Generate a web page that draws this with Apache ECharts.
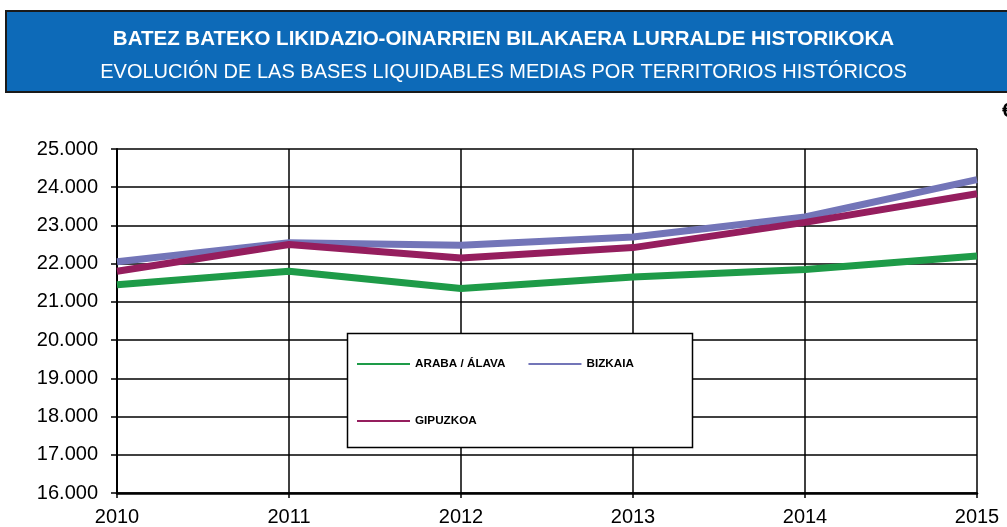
<!DOCTYPE html>
<html>
<head>
<meta charset="utf-8">
<script src="https://cdn.jsdelivr.net/npm/echarts@6/dist/echarts.min.js"></script>
<style>
  html, body { margin: 0; padding: 0; background: #fff; }
  #chart { width: 1007px; height: 527px; }
</style>
</head>
<body>
<div id="chart"></div>
<script>
// datos
var years = ['2010', '2011', '2012', '2013', '2014', '2015']
var araba = [21450, 21800, 21350, 21650, 21850, 22200]
var bizkaia = [22050, 22550, 22480, 22700, 23220, 24200]
var gipuzkoa = [21800, 22500, 22150, 22420, 23080, 23830]
var seriesNames = ['ARABA / ÁLAVA', 'BIZKAIA', 'GIPUZKOA']
var seriesColors = ['#1e9b48', '#7375b8', '#951e5e']

var titleText = 'BATEZ BATEKO LIKIDAZIO-OINARRIEN BILAKAERA LURRALDE HISTORIKOKA'
var subText = 'EVOLUCIÓN DE LAS BASES LIQUIDABLES MEDIAS POR TERRITORIOS HISTÓRICOS'

var chart = echarts.init(document.getElementById('chart'))

function fmt(v) {
  // separador de miles con punto
  return String(v).replace(/\B(?=(\d{3})+(?!\d))/g, '.')
}

var values = [araba, bizkaia, gipuzkoa]
var series = []
for (var i = 0; i < values.length; i++) {
  series.push({
    name: seriesNames[i],
    type: 'line',
    data: values[i],
    symbol: 'none',
    z: 10,
    lineStyle: { width: 7, color: seriesColors[i] },
    itemStyle: { color: seriesColors[i] }
  })
}

var legendText = { fontFamily: 'Liberation Sans', fontSize: 11.7, fontWeight: 'bold', color: '#000' }

var option = {
  animation: false,
  title: [
    {
      text: titleText,
      left: 'center',
      top: 24,
      textStyle: { fontFamily: 'Liberation Sans', fontSize: 20.5, fontWeight: 'bold', color: '#fff' }
    },
    {
      text: subText,
      left: 'center',
      top: 57,
      textStyle: { fontFamily: 'Liberation Sans', fontSize: 20, fontWeight: 'normal', color: '#fff' }
    },
    {
      text: '€',
      left: 997,
      top: 96,
      textStyle: { fontFamily: 'Liberation Sans', fontSize: 20, fontWeight: 'bold', color: '#000' }
    }
  ],
  graphic: [
    {
      type: 'rect',
      z: -1,
      shape: { x: 6, y: 11, width: 1010, height: 81 },
      style: { fill: '#0d6ab8', stroke: '#1a1a1a', lineWidth: 2 }
    },
    {
      type: 'rect',
      z: 5,
      shape: { x: 347.5, y: 333.5, width: 345, height: 114 },
      style: { fill: '#fff', stroke: '#000', lineWidth: 1.5 }
    }
  ],
  legend: [
    {
      data: [seriesNames[0], seriesNames[1]],
      left: 352,
      top: 353,
      z: 6,
      icon: 'rect',
      itemWidth: 53,
      itemHeight: 2,
      itemGap: 23,
      textStyle: legendText
    },
    {
      data: [seriesNames[2]],
      left: 352,
      top: 410,
      z: 6,
      icon: 'rect',
      itemWidth: 53,
      itemHeight: 2,
      textStyle: legendText
    }
  ],
  grid: { left: 117, right: 30, top: 149, bottom: 32, containLabel: false },
  xAxis: {
    type: 'category',
    boundaryGap: false,
    data: years,
    axisLine: { lineStyle: { color: '#000', width: 2.5 } },
    axisTick: { show: true, length: 5, lineStyle: { color: '#000', width: 1.5 } },
    axisLabel: { fontFamily: 'Liberation Sans', fontSize: 20, color: '#000', margin: 14 },
    splitLine: { show: true, lineStyle: { color: '#000', width: 1.5 } }
  },
  yAxis: {
    type: 'value',
    min: 16000,
    max: 25000,
    interval: 1000,
    axisLine: { show: true, lineStyle: { color: '#000', width: 2 } },
    axisTick: { show: true, length: 6, lineStyle: { color: '#000', width: 1.5 } },
    axisLabel: {
      fontFamily: 'Liberation Sans',
      fontSize: 20,
      color: '#000',
      margin: 19,
      formatter: fmt
    },
    splitLine: { show: true, lineStyle: { color: '#000', width: 1.5 } }
  },
  series: series
}

chart.setOption(option)
</script>
</body>
</html>
